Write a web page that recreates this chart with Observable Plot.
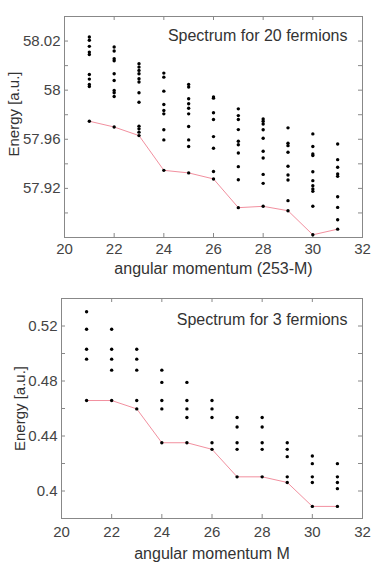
<!DOCTYPE html>
<html><head><meta charset="utf-8">
<script src="https://cdn.jsdelivr.net/npm/d3@7"></script>
<script src="https://cdn.jsdelivr.net/npm/@observablehq/plot@0.6"></script>
<style>
body{margin:0;background:#fff;}
#c{width:374px;}
#c svg{display:block;}
</style></head><body><div id="c"></div>
<script>
const M = [21,22,23,24,25,26,27,28,29,30,31];
const xTicks = [20,22,24,26,28,30,32];
const xInnerTicks = [22,24,26,28,30];

// 20 fermions: excited levels per M, and ground state per M
const levels20 = [
  [58.0433,58.0406,58.0357,58.0310,58.0291,58.0128,58.0090,58.0047,58.0030],
  [58.0351,58.0319,58.0256,58.0240,58.0134,58.0079,57.9998,57.9979,57.9949],
  [58.0215,58.0188,58.0161,58.0134,58.0093,58.0066,57.9979,57.9902,57.9707,57.9685,57.9658],
  [58.0139,58.0106,57.9992,57.9883,57.9834,57.9807,57.9677,57.9595],
  [58.0047,58.0025,57.9930,57.9889,57.9853,57.9807,57.9704,57.9595,57.9541],
  [57.9945,57.9935,57.9816,57.9761,57.9622,57.9527,57.9337],
  [57.9848,57.9793,57.9761,57.9679,57.9584,57.9556,57.9488,57.9377,57.9270],
  [57.9766,57.9747,57.9725,57.9677,57.9608,57.9502,57.9448,57.9314,57.9241],
  [57.9693,57.9568,57.9548,57.9494,57.9380,57.9309,57.9268,57.9100],
  [57.9644,57.9541,57.9480,57.9467,57.9336,57.9263,57.9222,57.9195,57.9176,57.9054],
  [57.9562,57.9434,57.9372,57.9317,57.9298,57.9132,57.9045,57.8944]
];
const ground20 = [57.9747,57.9700,57.9630,57.9347,57.9326,57.9277,57.9043,57.9054,57.9018,57.8822,57.8868];
const yTicks20 = [57.92,57.96,58.00,58.04];
const yTickLabels20 = ["57.92","57.96","58","58.02"];
const yMinor20 = [57.90,57.94,57.98,58.02];

// 3 fermions
const levels3 = [
  [0.5304,0.5176,0.5031,0.4959],
  [0.5176,0.5031,0.4959,0.4879],
  [0.5031,0.4959,0.4879,0.4658],
  [0.4879,0.4790,0.4658,0.4597],
  [0.4790,0.4658,0.4597,0.4535],
  [0.4658,0.4597,0.4535,0.4351],
  [0.4535,0.4465,0.4351,0.4303],
  [0.4535,0.4465,0.4351,0.4303],
  [0.4351,0.4303,0.4250,0.4103],
  [0.4255,0.4199,0.4103,0.4062],
  [0.4199,0.4103,0.4062,0.4017]
];
const ground3 = [0.4658,0.4658,0.4597,0.4351,0.4351,0.4303,0.4103,0.4103,0.4062,0.3888,0.3888];
const yTicks3 = [0.40,0.44,0.48,0.52];
const yTickLabels3 = ["0.4","0.44","0.48","0.52"];
const yMinor3 = [0.42,0.46,0.50];

const FONT = "'Liberation Sans', Arial, Helvetica, sans-serif";
const AXIS = "#888";

function panel(o) {
  const W = 374;
  const innerW = W - o.ml - o.mr;
  const innerH = o.height - o.mt - o.mb;
  const dots = [];
  M.forEach((m, i) => {
    o.levels[i].forEach(e => dots.push({m, e}));
    dots.push({m, e: o.ground[i]});
  });
  const gline = M.map((m, i) => ({m, e: o.ground[i]}));
  const yAll = o.yTicks.concat(o.yMinor);
  return Plot.plot({
    width: W, height: o.height,
    marginLeft: o.ml, marginRight: o.mr, marginTop: o.mt, marginBottom: o.mb,
    style: {fontFamily: FONT, fontSize: "15px", color: "#444", background: "#fff", overflow: "visible"},
    x: {domain: [20, 32]},
    y: {domain: o.yDomain},
    marks: [
      Plot.frame({stroke: AXIS}),
      Plot.tickX(xInnerTicks, {x: d => d, stroke: AXIS, insetTop: innerH - 4}),
      Plot.tickX(xInnerTicks, {x: d => d, stroke: AXIS, insetBottom: innerH - 4}),
      Plot.tickY(yAll, {y: d => d, stroke: AXIS, insetRight: innerW - 4}),
      Plot.tickY(yAll, {y: d => d, stroke: AXIS, insetLeft: innerW - 4}),
      Plot.axisY({ticks: o.yTicks, tickFormat: d => o.yTickLabels[o.yTicks.indexOf(d)], tickSize: 0, tickPadding: 4, label: null, fontSize: 15, fill: "#444"}),
      Plot.axisX({ticks: xTicks, tickFormat: d => String(d), tickSize: 0, tickPadding: o.xPad, label: null, fontSize: 15, fill: "#444"}),
      Plot.line(gline, {x: "m", y: "e", stroke: "#f2909f", strokeWidth: 1}),
      Plot.dot(dots, {x: "m", y: "e", r: 1.7, fill: "#000", stroke: "none"}),
      Plot.text([o.title], {text: d => d, frameAnchor: "top-right", textAnchor: "end", lineAnchor: "middle", dx: -15, dy: o.titleDy, fontSize: 16, fill: "#333"}),
      Plot.text([o.xLabel], {text: d => d, frameAnchor: "bottom", textAnchor: "middle", lineAnchor: "middle", dy: o.xLabelDy, fontSize: 16, fill: "#333"}),
      Plot.text([o.yLabel], {text: d => d, frameAnchor: "left", textAnchor: "middle", lineAnchor: "middle", rotate: -90, dx: o.yLabelDx, dy: o.yLabelDy, fontSize: 15, fill: "#333"})
    ]
  });
}

const c = document.getElementById("c");
c.appendChild(panel({
  height: 280, ml: 64, mr: 12, mt: 16, mb: 43,
  levels: levels20, ground: ground20,
  yDomain: [57.88, 58.06], yTicks: yTicks20, yTickLabels: yTickLabels20, yMinor: yMinor20,
  title: "Spectrum for 20 fermions", titleDy: 19,
  xLabel: "angular momentum (253-M)", xLabelDy: 31, xPad: 6,
  yLabel: "Energy [a.u.]", yLabelDx: -50, yLabelDy: -13
}));
c.appendChild(panel({
  height: 285, ml: 61, mr: 12, mt: 18, mb: 47,
  levels: levels3, ground: ground3,
  yDomain: [0.38, 0.54], yTicks: yTicks3, yTickLabels: yTickLabels3, yMinor: yMinor3,
  title: "Spectrum for 3 fermions", titleDy: 21,
  xLabel: "angular momentum M", xLabelDy: 35, xPad: 8,
  yLabel: "Energy [a.u.]", yLabelDx: -41, yLabelDy: 0
}));
</script>
</body></html>
